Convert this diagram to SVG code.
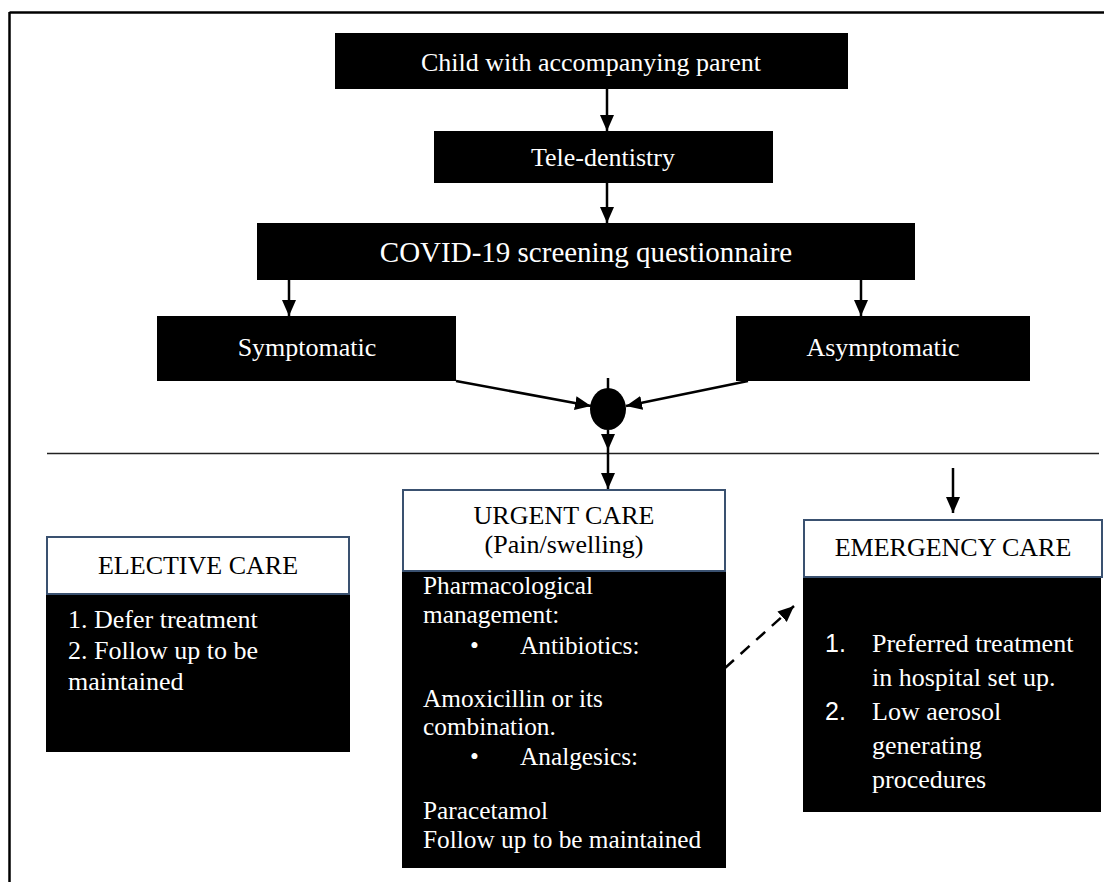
<svg xmlns="http://www.w3.org/2000/svg" width="1104" height="882" viewBox="0 0 1104 882">
<defs>
<marker id="ah" markerUnits="userSpaceOnUse" markerWidth="17" markerHeight="15" refX="16" refY="7" orient="auto">
<path d="M0,0 L16,7 L0,14 z" fill="#000"/>
</marker>
</defs>
<style>
.blk{fill:#000}
.hdr{fill:#fff;stroke:#3a5170;stroke-width:2}
.t{font-family:"Liberation Serif","Times New Roman",serif;font-size:26px}
.u{font-size:25.3px}
.w{fill:#fff}
.k{fill:#000}
.c{text-anchor:middle}
.s{font-family:"Liberation Sans",Arial,sans-serif;font-size:25px}
.ln{stroke:#000;stroke-width:2.5;fill:none}
</style>
<rect width="1104" height="882" fill="#fff"/>
<g id="frame">
<line x1="9.5" y1="12.5" x2="1104" y2="12.5" stroke="#000" stroke-width="2.5"/>
<line x1="9.5" y1="12" x2="9.5" y2="882" stroke="#000" stroke-width="2.5"/>
<line x1="47" y1="453.5" x2="1099" y2="453.5" stroke="#222" stroke-width="1.5"/>
</g>
<g id="connectors">
<line class="ln" x1="607" y1="89" x2="607" y2="131" marker-end="url(#ah)"/>
<line class="ln" x1="607" y1="183" x2="607" y2="223" marker-end="url(#ah)"/>
<line class="ln" x1="289" y1="280" x2="289" y2="316" marker-end="url(#ah)"/>
<line class="ln" x1="861" y1="280" x2="861" y2="316" marker-end="url(#ah)"/>
<line class="ln" x1="456" y1="381" x2="591" y2="406" marker-end="url(#ah)"/>
<line class="ln" x1="748" y1="381" x2="626" y2="406" marker-end="url(#ah)"/>
<line class="ln" x1="608" y1="378" x2="608" y2="390"/>
<line class="ln" x1="608" y1="430" x2="608" y2="450" marker-end="url(#ah)"/>
<line class="ln" x1="608" y1="450" x2="608" y2="489" marker-end="url(#ah)"/>
<line class="ln" x1="953" y1="468" x2="953" y2="513" marker-end="url(#ah)"/>
<line class="ln" x1="725" y1="668" x2="794" y2="606" stroke-width="3.2" stroke-dasharray="12,9" marker-end="url(#ah)"/>
</g>
<g id="child">
<rect class="blk" x="335" y="33" width="513" height="56"/>
<text class="t w c" x="591" y="71">Child with accompanying parent</text>
</g>
<g id="tele">
<rect class="blk" x="434" y="131" width="339" height="52"/>
<text class="t w c" x="603" y="166">Tele-dentistry</text>
</g>
<g id="covid">
<rect class="blk" x="257" y="223" width="658" height="57"/>
<text class="t w c" x="586" y="262" style="font-size:29px">COVID-19 screening questionnaire</text>
</g>
<g id="symptomatic">
<rect class="blk" x="157" y="316" width="299" height="65"/>
<text class="t w c" x="307" y="356">Symptomatic</text>
</g>
<g id="asymptomatic">
<rect class="blk" x="736" y="316" width="294" height="65"/>
<text class="t w c" x="883" y="356">Asymptomatic</text>
</g>
<g id="junction">
<ellipse class="blk" cx="608" cy="409" rx="18" ry="21"/>
</g>
<g id="elective">
<rect class="blk" x="46" y="594" width="304" height="158"/>
<rect class="hdr" x="47" y="537" width="302" height="57"/>
<text class="t k c" x="198" y="574">ELECTIVE CARE</text>
<text class="t w" x="68" y="628">1. Defer treatment</text>
<text class="t w" x="68" y="659">2. Follow up to be</text>
<text class="t w" x="68" y="690">maintained</text>
</g>
<g id="urgent">
<rect class="blk" x="402" y="571" width="324" height="297"/>
<rect class="hdr" x="403" y="490" width="322" height="81"/>
<text class="t k c" x="564" y="524">URGENT CARE</text>
<text class="t k c" x="564" y="553">(Pain/swelling)</text>
<text class="t u w" x="423" y="594">Pharmacological</text>
<text class="t u w" x="423" y="623">management:</text>
<text class="t u w" x="470" y="654">•</text>
<text class="t u w" x="520" y="654">Antibiotics:</text>
<text class="t u w" x="423" y="707">Amoxicillin or its</text>
<text class="t u w" x="423" y="735">combination.</text>
<text class="t u w" x="470" y="765">•</text>
<text class="t u w" x="520" y="765">Analgesics:</text>
<text class="t u w" x="423" y="819">Paracetamol</text>
<text class="t u w" x="423" y="848">Follow up to be maintained</text>
</g>
<g id="emergency">
<rect class="blk" x="803" y="577" width="298" height="235"/>
<rect class="hdr" x="804" y="520" width="298" height="57"/>
<text class="t k c" x="953" y="556">EMERGENCY CARE</text>
<text class="s w" x="825" y="652">1.</text>
<text class="t w" x="872" y="652">Preferred treatment</text>
<text class="t w" x="872" y="686">in hospital set up.</text>
<text class="s w" x="825" y="720">2.</text>
<text class="t w" x="872" y="720">Low aerosol</text>
<text class="t w" x="872" y="754">generating</text>
<text class="t w" x="872" y="788">procedures</text>
</g>
</svg>
